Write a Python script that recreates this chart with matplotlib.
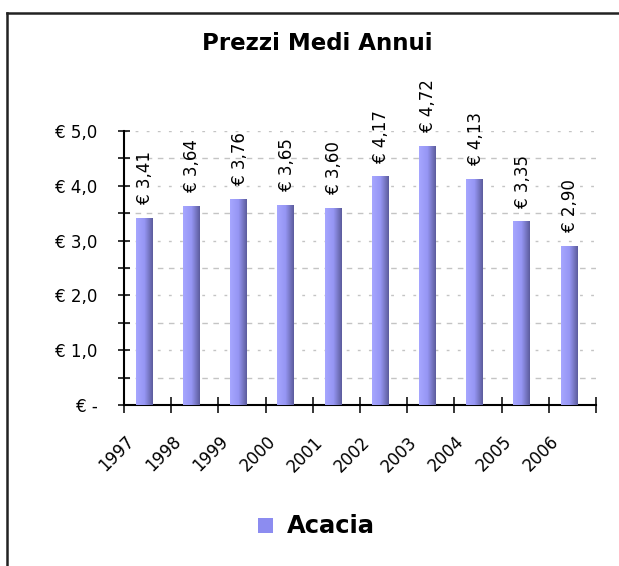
import numpy as np
import matplotlib
matplotlib.use("Agg")
import matplotlib.pyplot as plt
import matplotlib.transforms as mtransforms
from matplotlib.patches import Rectangle
from matplotlib.lines import Line2D

# ==================================
# Dati
# ==================================

anni = ["1997", "1998", "1999", "2000", "2001",
        "2002", "2003", "2004", "2005", "2006"]
prezzi = [3.41, 3.64, 3.76, 3.65, 3.60, 4.17, 4.72, 4.13, 3.35, 2.90]
etichette = ["€ 3,41", "€ 3,64", "€ 3,76", "€ 3,65", "€ 3,60",
             "€ 4,17", "€ 4,72", "€ 4,13", "€ 3,35", "€ 2,90"]
y_ticks = [0, 1, 2, 3, 4, 5]
y_labels = ["€ -", "€ 1,0", "€ 2,0", "€ 3,0", "€ 4,0", "€ 5,0"]
serie = "Acacia"
titolo = "Prezzi Medi Annui"

# ==================================
# Figura
# ==================================

W, H = 619, 566
fig = plt.figure(figsize=(W / 100, H / 100), dpi=100)
fig.patch.set_facecolor("white")

ax = fig.add_axes([124 / W, 1 - 405 / H, (596 - 124) / W, (405 - 131) / H])

x = np.arange(len(anni))
bars = ax.bar(x - 0.08, prezzi, width=0.34, color="#8c8cf0",
              edgecolor="none", zorder=3)

# gradiente orizzontale sulle barre
grad = np.linspace(0, 1, 64).reshape(1, -1)
cmap = matplotlib.colors.LinearSegmentedColormap.from_list(
    "barra", ["#a6a6ff", "#9696f4", "#5c5c9c"])
for b in bars:
    bx, by = b.get_x(), b.get_y()
    im = ax.imshow(grad, cmap=cmap, aspect="auto", zorder=4,
                   extent=[bx, bx + b.get_width(), by, by + b.get_height()])
    im.set_clip_path(b)

# etichette valori
for xi, v, t in zip(x, prezzi, etichette):
    ax.annotate(t, (xi - 0.08, v), xytext=(1, 10), textcoords="offset points",
                rotation=90, ha="center", va="bottom", fontsize=12,
                family="DejaVu Sans", color="black")

ax.set_xlim(-0.5, 9.5)
ax.set_ylim(0, 5)

# griglia
for g in np.arange(0.5, 5.01, 0.5):
    if g % 1 == 0:
        ax.axhline(g, color="#c4c4c4", lw=1, ls=(0, (2, 6)), zorder=1)
    else:
        ax.axhline(g, color="#c4c4c4", lw=1, ls=(0, (4, 4)), zorder=1)

ax.set_yticks(y_ticks)
ax.set_yticklabels(y_labels, fontsize=12, family="DejaVu Sans")
ax.set_yticks(np.arange(0.5, 5, 1), minor=True)
ax.tick_params(axis="y", which="both", direction="inout", length=8,
               width=1.1, pad=15)

# tick x ai bordi delle categorie, etichette al centro
ax.set_xticks(np.arange(-0.5, 10, 1))
ax.set_xticklabels([])
ax.tick_params(axis="x", which="major", direction="inout", length=11,
               width=1.1)
ax.set_xticks(x, minor=True)
ax.set_xticklabels(anni, minor=True, rotation=45, ha="right",
                   rotation_mode="anchor", fontsize=12, family="DejaVu Sans")
ax.tick_params(axis="x", which="minor", length=0, pad=20)
offset = mtransforms.ScaledTranslation(-23 / 100, 0, fig.dpi_scale_trans)
for lab in ax.xaxis.get_minorticklabels():
    lab.set_transform(lab.get_transform() + offset)

for s in ["top", "right"]:
    ax.spines[s].set_visible(False)
ax.spines["left"].set_linewidth(1.5)
ax.spines["bottom"].set_linewidth(1.5)

# titolo
fig.text(317 / W, 1 - 44 / H, titolo, ha="center", va="center",
         fontsize=16.5, fontweight="bold", family="DejaVu Sans")

# legenda
fig.patches.append(Rectangle((258 / W, 1 - 533 / H), 15 / W, 15 / H,
                             transform=fig.transFigure, facecolor="#8c8cf0",
                             edgecolor="none"))
fig.text(287 / W, 1 - 526 / H, serie, ha="left", va="center",
         fontsize=17.5, fontweight="bold", family="DejaVu Sans")

# bordo esterno
fig.add_artist(Line2D([7 / W, 7 / W], [0, 1 - 13 / H],
                      transform=fig.transFigure, color="#222222", lw=1.8))
fig.add_artist(Line2D([7 / W, 1], [1 - 13 / H, 1 - 13 / H],
                      transform=fig.transFigure, color="#222222", lw=1.8))

fig.savefig("out.png", dpi=100)
